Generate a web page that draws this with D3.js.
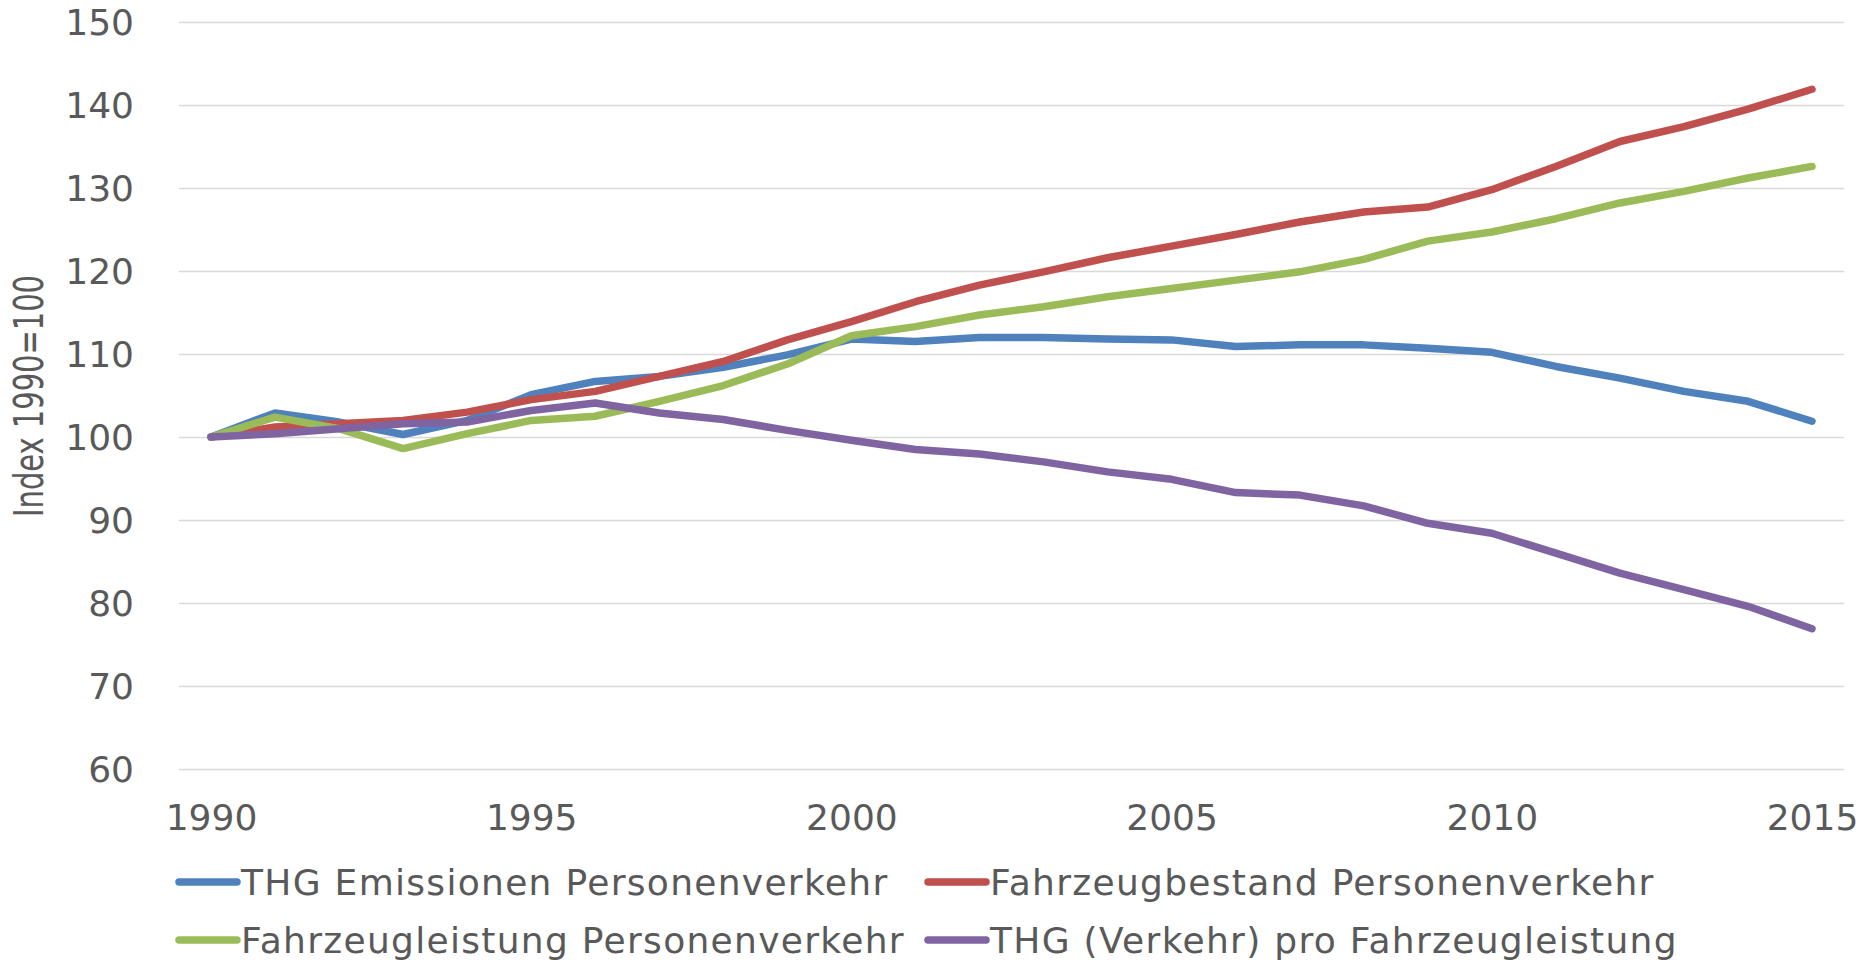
<!DOCTYPE html>
<html>
<head>
<meta charset="utf-8">
<script src="https://cdn.jsdelivr.net/npm/d3@7"></script>
<style>
  html, body { margin: 0; padding: 0; background: #fff; }
  text { font-family: "DejaVu Sans", sans-serif; fill: #595959; }
</style>
</head>
<body>
<script>
// data
const years = d3.range(1990, 2016);
const thgEmissionen = [100, 102.9, 101.8, 100.3, 102.0, 105.1, 106.7, 107.3, 108.4, 109.9, 111.8, 111.5, 112.0, 112.0, 111.8, 111.7, 110.9, 111.1, 111.1, 110.7, 110.2, 108.5, 107.1, 105.5, 104.3, 101.9];
const fahrzeugbestand = [100, 101.2, 101.6, 102.0, 103.0, 104.5, 105.5, 107.3, 109.1, 111.7, 113.9, 116.3, 118.3, 119.9, 121.6, 123.0, 124.4, 125.9, 127.1, 127.7, 129.8, 132.6, 135.6, 137.4, 139.5, 141.9];
const fahrzeugleistung = [100, 102.4, 101.0, 98.6, 100.4, 102.0, 102.5, 104.3, 106.2, 108.8, 112.2, 113.3, 114.7, 115.7, 116.9, 117.9, 118.9, 119.9, 121.4, 123.6, 124.7, 126.3, 128.2, 129.6, 131.2, 132.6];
const thgProLeistung = [100, 100.4, 101.0, 101.6, 101.8, 103.2, 104.1, 102.9, 102.1, 100.8, 99.6, 98.5, 97.95, 97.0, 95.8, 94.9, 93.3, 93.0, 91.7, 89.6, 88.4, 86.0, 83.6, 81.6, 79.6, 76.9];

const seriesNames = [
  "THG Emissionen Personenverkehr",
  "Fahrzeugbestand Personenverkehr",
  "Fahrzeugleistung Personenverkehr",
  "THG (Verkehr) pro Fahrzeugleistung"
];
const seriesColors = ["#4F81BD", "#C0504D", "#9BBB59", "#8064A2"];
const yTicks = [60, 70, 80, 90, 100, 110, 120, 130, 140, 150];
const xTicks = [1990, 1995, 2000, 2005, 2010, 2015];

const series = [thgEmissionen, fahrzeugbestand, fahrzeugleistung, thgProLeistung];

// layout
const width = 1866, height = 960;
const plotLeft = 179, plotRight = 1844;

const svg = d3.select("body").append("svg")
  .attr("width", width)
  .attr("height", height);

const x = d3.scaleLinear()
  .domain([1990, 2015])
  .range([211, 1812]);

const y = d3.scaleLinear()
  .domain([60, 150])
  .range([769, 22]);

// y axis with gridlines
const yAxis = svg.append("g")
  .attr("transform", `translate(${plotLeft},0)`)
  .call(d3.axisLeft(y).tickValues(yTicks).tickSize(-(plotRight - plotLeft)).tickPadding(45));
yAxis.select(".domain").remove();
yAxis.selectAll(".tick line")
  .attr("stroke", "#d9d9d9")
  .attr("stroke-width", 1.6);
yAxis.selectAll(".tick text")
  .attr("font-size", 36)
  .attr("font-family", null)
  .attr("fill", "#595959")
  .attr("dy", "0.36em");

// x axis labels
const xAxis = svg.append("g")
  .attr("transform", `translate(0,${y(60)})`)
  .call(d3.axisBottom(x).tickValues(xTicks).tickSize(0).tickPadding(35).tickFormat(d3.format("d")));
xAxis.select(".domain").remove();
xAxis.selectAll(".tick text")
  .attr("font-size", 36)
  .attr("font-family", null)
  .attr("fill", "#595959");

// y axis title
svg.append("text")
  .attr("transform", "translate(43,396) rotate(-90)")
  .attr("text-anchor", "middle")
  .attr("font-size", 41)
  .attr("textLength", 242)
  .attr("lengthAdjust", "spacingAndGlyphs")
  .text("Index 1990=100");

// lines
const line = d3.line()
  .x((d, i) => x(years[i]))
  .y(d => y(d));

svg.append("g")
  .selectAll("path")
  .data(series)
  .join("path")
  .attr("d", line)
  .attr("fill", "none")
  .attr("stroke", (d, i) => seriesColors[i])
  .attr("stroke-width", 7.5)
  .attr("stroke-linecap", "round")
  .attr("stroke-linejoin", "round");

// legend
const legendPos = [
  { x: 179, y: 882 },
  { x: 928, y: 882 },
  { x: 179, y: 940 },
  { x: 928, y: 940 }
];

const legend = svg.append("g")
  .selectAll("g")
  .data(seriesNames)
  .join("g")
  .attr("transform", (d, i) => `translate(${legendPos[i].x},${legendPos[i].y})`);

legend.append("line")
  .attr("x1", 0)
  .attr("x2", 58)
  .attr("stroke", (d, i) => seriesColors[i])
  .attr("stroke-width", 7.5)
  .attr("stroke-linecap", "round");

legend.append("text")
  .attr("x", 62)
  .attr("dy", "0.36em")
  .attr("font-size", 36)
  .attr("letter-spacing", 1.3)
  .text(d => d);
</script>
</body>
</html>
